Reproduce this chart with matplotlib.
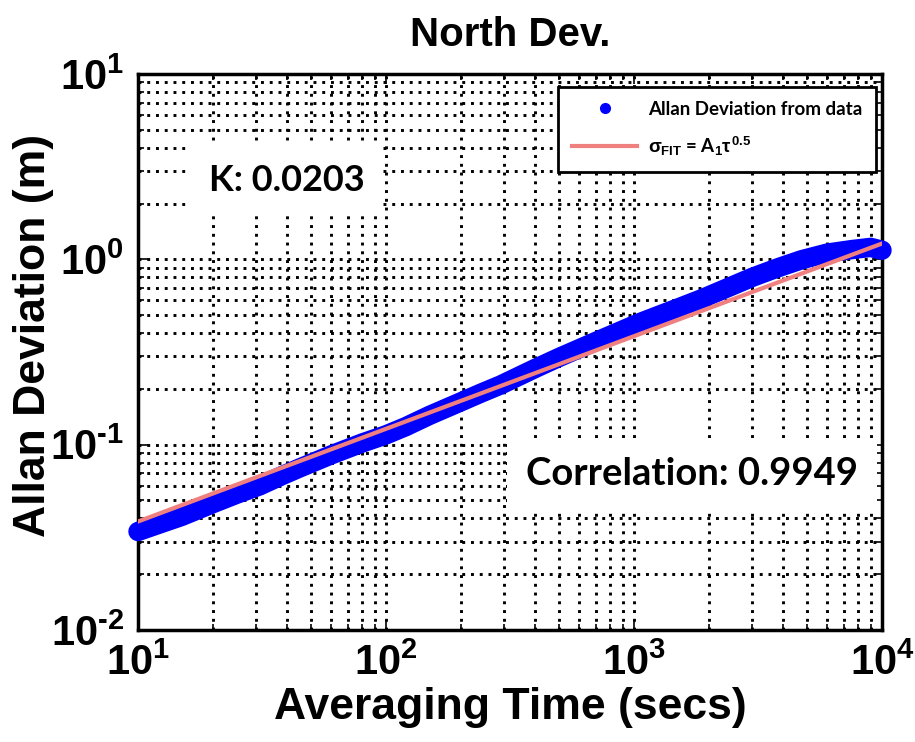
import matplotlib
matplotlib.use('Agg')
import matplotlib.pyplot as plt
import numpy as np
from matplotlib.lines import Line2D
from matplotlib.ticker import LogLocator, NullFormatter, FuncFormatter

plt.rcParams['mathtext.fontset'] = 'custom'
plt.rcParams['mathtext.rm'] = 'Liberation Sans:bold'
plt.rcParams['mathtext.it'] = 'Liberation Sans:bold'
plt.rcParams['mathtext.bf'] = 'Liberation Sans:bold'
plt.rcParams['mathtext.sf'] = 'Liberation Sans:bold'
plt.rcParams['font.family'] = ['Liberation Sans', 'DejaVu Sans']
plt.rcParams['font.weight'] = 'bold'
plt.rcParams['axes.unicode_minus'] = False

# ---- data ----
tau = [10, 12, 15, 20, 25, 31, 38, 45, 60, 80, 100, 120, 150, 200, 240, 290,
       400, 500, 700, 1070, 1550, 1860, 2400, 3000, 3800, 4740, 6000, 7600,
       9000, 10000]
adev = [0.034, 0.037, 0.041, 0.048, 0.054, 0.060, 0.068, 0.075, 0.088, 0.102,
        0.113, 0.125, 0.144, 0.170, 0.189, 0.210, 0.258, 0.296, 0.360, 0.459,
        0.555, 0.610, 0.705, 0.800, 0.900, 0.995, 1.08, 1.13, 1.16, 1.12]
fit_tau = [10, 10000]
fit_vals = [0.0385, 1.217]

title = 'North Dev.'
xlabel = 'Averaging Time (secs)'
ylabel = 'Allan Deviation (m)'
k_text = 'K: 0.0203'
corr_text = 'Correlation: 0.9949'
legend_labels = ['Allan Deviation from data', r'$\sigma_{FIT}$ = A$_1$$\tau^{0.5}$']


def pow10_fmt(v, pos):
    e = int(round(np.log10(v)))
    if e < 0:
        return r'$10^{\text{-}%d}$' % (-e)
    return r'$10^{%d}$' % e


fig = plt.figure(figsize=(9.15, 7.42), dpi=100)
ax = fig.add_axes([138/915, 1 - 630/742, 744/915, 556/742])

ax.set_xscale('log')
ax.set_yscale('log')
ax.set_xlim(10, 10000)
ax.set_ylim(0.01, 10)

ax.grid(which='both', color='black', linestyle=(0, (1, 2)), linewidth=2.1)
ax.set_axisbelow(True)

ax.plot(tau, adev, color='blue', lw=14, solid_capstyle='round',
        solid_joinstyle='round', zorder=3, clip_on=False)
ax.plot(fit_tau, fit_vals, color='#F08080', lw=3, zorder=4)

for s in ax.spines.values():
    s.set_linewidth(2.5)
ax.tick_params(which='both', direction='in', top=True, right=True, width=1.2)
ax.tick_params(which='major', length=7, labelsize=30, pad=10)
ax.tick_params(which='minor', length=4)
ax.xaxis.set_minor_locator(LogLocator(base=10, subs=range(2, 10)))
ax.yaxis.set_minor_locator(LogLocator(base=10, subs=range(2, 10)))
ax.xaxis.set_minor_formatter(NullFormatter())
ax.yaxis.set_minor_formatter(NullFormatter())
ax.xaxis.set_major_formatter(FuncFormatter(pow10_fmt))
ax.yaxis.set_major_formatter(FuncFormatter(pow10_fmt))

ax.set_title(title, fontsize=29, fontweight='bold', pad=20)
ax.set_xlabel(xlabel, fontsize=32, fontweight='bold', labelpad=2)
ax.set_ylabel(ylabel, fontsize=32, fontweight='bold')
ax.yaxis.set_label_coords(-0.113, 0.53)

box_font = ['Lato', 'DejaVu Sans']
ax.text(0.200, 0.808, k_text, transform=ax.transAxes, ha='center', va='center',
        fontsize=26, fontweight='bold', family=box_font,
        bbox=dict(boxstyle='square,pad=0.5', facecolor='white', edgecolor='none'), zorder=5)
ax.text(0.745, 0.281, corr_text, transform=ax.transAxes, ha='center', va='center',
        fontsize=27.5, fontweight='bold', family=box_font,
        bbox=dict(boxstyle='square,pad=0.5', facecolor='white', edgecolor='none'), zorder=5)

handles = [Line2D([], [], marker='o', linestyle='none', markerfacecolor='blue',
                  markeredgecolor='blue', markersize=7),
           Line2D([], [], color='#F08080', lw=3)]
leg = ax.legend(handles, legend_labels, loc='upper right', bbox_to_anchor=(0.992, 0.977),
                borderaxespad=0, fancybox=False, edgecolor='black', framealpha=1,
                prop=dict(family=box_font, weight='bold', size=13.5),
                handlelength=3.5, handletextpad=0.55, labelspacing=0.9, borderpad=0.75)
leg.get_frame().set_linewidth(2)
leg.set_zorder(6)

fig.savefig('out.png', dpi=100)
